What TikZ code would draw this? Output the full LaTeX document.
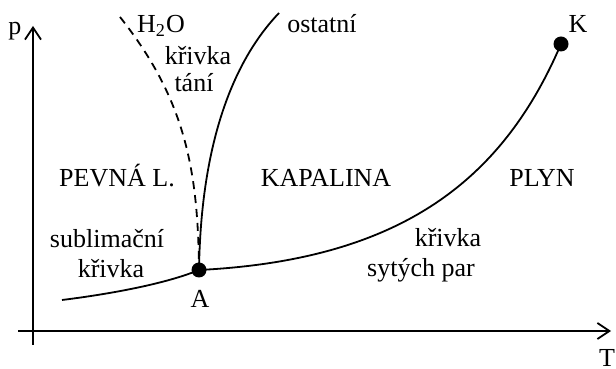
\documentclass[tikz,border=0pt]{standalone}
\usepackage{fontspec}
\setmainfont{Liberation Serif}
\usetikzlibrary{positioning,arrows.meta}

\tikzset{
  axis/.style={line width=0.9pt, -{Straight Barb[length=6pt,width=8pt,line width=0.9pt]}},
  curve/.style={line width=0.9pt},
  point/.style={circle, fill, inner sep=0pt, minimum size=7.5pt},
  lbl/.style={font=\fontsize{13}{15}\selectfont, inner sep=0pt, anchor=base},
}

\begin{document}
\begin{tikzpicture}[x=0.5pt, y=0.5pt]
\useasboundingbox (0,0) rectangle (616,369);

% axes
\coordinate (xstart) at (18,38);
\coordinate (xend) at (611,38);
\coordinate (ystart) at (33,24);
\coordinate (yend) at (33,343);
\draw[axis] (xstart) -- (xend);
\draw[axis] (ystart) -- (yend);
\node[lbl] (p) at (15,334) {p};
\node[lbl] (T) at (607,2) {T};

% points
\node[point] (A) at (199,99) {};
\node[point] (K) at (561,325) {};
\node[lbl] (Alab) at (200,61) {A};
\node[lbl] (Klab) at (578,336) {K};

% curves
\coordinate (sub) at (62,69);
\coordinate (melt) at (279,356);
\coordinate (water) at (120,352);
\draw[curve] (sub) .. controls (110,75) and (165,85) .. (A.center);
\draw[curve] (A.center) .. controls (399,109) and (502,187) .. (K.center);
\draw[curve] (A.center) .. controls (201,230) and (235,310) .. (melt);
\draw[curve, dash pattern=on 4pt off 3pt] (water) .. controls (185,270) and (198,200) .. (A.center);

% labels
\node[lbl] (h2o) at (161,336) {H\textsubscript{2}O};
\node[lbl] (krivka1) at (198,304) {křivka};
\node[lbl] (tani) at (194,277) {tání};
\node[lbl] (ostatni) at (322,336) {ostatní};
\node[lbl] (pevna) at (117,182) {PEVNÁ L.};
\node[lbl] (kapalina) at (326,182) {KAPALINA};
\node[lbl] (plyn) at (542,182) {PLYN};
\node[lbl] (sublim) at (107,121) {sublimační};
\node[lbl] (krivka2) at (111,91) {křivka};
\node[lbl] (krivka3) at (448,122) {křivka};
\node[lbl] (syte) at (421,92) {sytých par};
\end{tikzpicture}
\end{document}
